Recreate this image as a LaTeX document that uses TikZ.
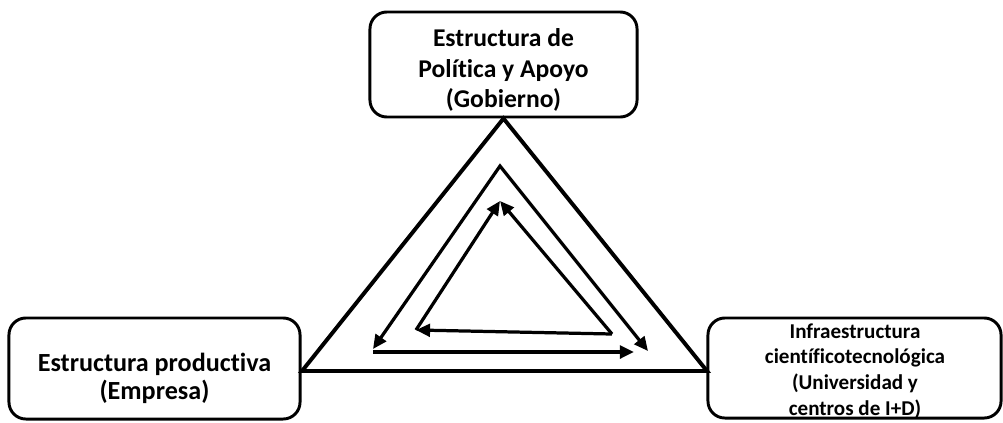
\documentclass[tikz,border=0pt]{standalone}
\usepackage{fontspec}
\setmainfont{Carlito}[Ligatures=NoCommon]
\usetikzlibrary{arrows.meta,positioning}

\begin{document}
\begin{tikzpicture}[
    x=0.025cm, y=-0.025cm,
    box/.style={rectangle, rounded corners=12pt, draw, line width=2.1pt, inner sep=0pt},
    txt/.style={align=center, inner sep=0pt, font=\bfseries\fontsize{18.2}{22}\selectfont},
    widetxt/.style={txt, font=\bfseries\fontsize{18.6}{20}\selectfont},
    smalltxt/.style={txt, font=\bfseries\fontsize{15}{18.3}\selectfont},
    outer/.style={line width=2.8pt, line join=miter},
    arrow/.style={line width=2.3pt, line join=miter, -{Triangle[length=10pt,width=9pt]}},
    twoway/.style={arrow, {Triangle[length=10pt,width=9pt]}-{Triangle[length=10pt,width=9pt]}}
]
    \useasboundingbox (0,0) rectangle (1003,422);

    % actores
    \node[box, minimum width=6.675cm, minimum height=2.625cm] (gob) at (503.5,64.5) {};
    \node[box, minimum width=7.275cm, minimum height=2.525cm] (emp) at (154.5,368.5) {};
    \node[box, minimum width=7.325cm, minimum height=2.5cm] (univ) at (854.5,368) {};
    \node[txt] (gobtxt) at (503.5,70) {Estructura de\\Política y Apoyo\\(Gobierno)};
    \node[widetxt] (emptxt) at (154.5,378) {Estructura productiva\\(Empresa)};
    \node[smalltxt] (univtxt) at (855,371)
        {Infraestructura\\científicotecnológica\\(Universidad y\\centros de I+D)};

    % triangulo exterior
    \coordinate (tL) at (302,371);
    \coordinate (tR) at (707,371);
    \draw[outer] (gob.south) -- (tR) -- (tL) -- cycle;

    % flechas intermedias
    \coordinate (mL) at (373,349);
    \coordinate (mA) at (500,166);
    \coordinate (mR) at (648,351);
    \coordinate (bL) at (373,352);
    \coordinate (bR) at (634,352);
    \draw[twoway] (mL) -- (mA) -- (mR);
    \draw[arrow, line width=2.8pt] (bL) -- (bR);

    % triangulo interior
    \coordinate (iL) at (416,330);
    \coordinate (iR) at (612,334);
    \coordinate (iA) at (500,201);
    \draw[arrow] (iR) -- (iL);
    \draw[arrow] (iL) -- (iA);
    \draw[arrow] (iR) -- (iA);
\end{tikzpicture}
\end{document}
